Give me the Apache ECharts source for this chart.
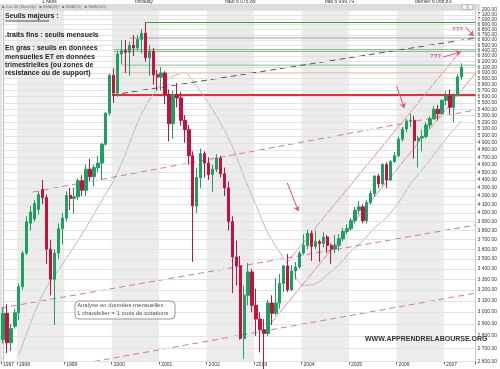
<!DOCTYPE html>
<html><head><meta charset="utf-8">
<script src="https://cdn.jsdelivr.net/npm/echarts@6/dist/echarts.min.js"></script>
<style>html,body{margin:0;padding:0;background:#fff}#c{width:500px;height:369px}</style>
</head><body><div id="c"></div>
<script>
// ---- categories (months Sep 1997 .. Aug 2007) ----
const startYear = 1997, startMonth = 9, slotCount = 120;
const months = [];
for (let i = 0; i < slotCount; i++) {
  const m = (startMonth - 1 + i) % 12 + 1, y = startYear + Math.floor((startMonth - 1 + i) / 12);
  months.push(y + '-' + (m < 10 ? '0' + m : m));
}
// ---- OHLC as [open, close, low, high] ----
const ohlc1997 = [[2770,2990,2740,3040],[2990,2745,2665,3070],[2745,2860,2680,2900],[2880,2995,2860,3030]];
const ohlc1998 = [[2995,3230,2930,3260],[3230,3560,3200,3580],[3560,3900,3540,3960],[3880,4010,3800,4080],[3930,4110,3900,4150],[4040,4220,3980,4260],[4280,4180,4100,4400],[4180,3600,3450,4220],[3600,3300,3150,3700],[3300,3560,2890,3600],[3560,3820,3500,3880],[3820,3940,3650,4000]];
const ohlc1999 = [[3940,4210,3900,4260],[4210,4170,4030,4300],[4170,4190,3990,4300],[4190,4390,4150,4420],[4390,4270,4200,4460],[4270,4540,4200,4600],[4540,4440,4380,4680],[4440,4560,4320,4600],[4560,4620,4500,4720],[4620,4880,4400,4900],[4880,5340,4860,5360],[5340,5960,5300,5980]];
const ohlc2000 = [[5960,5660,5500,6080],[5660,6340,5600,6400],[6340,6400,6150,6600],[6400,6370,6000,6600],[6370,6500,5950,6570],[6500,6450,6300,6700],[6450,6610,6400,6700],[6610,6730,6350,6810],[6730,6270,6200,6944],[6270,6390,5950,6500],[6390,5970,5800,6450],[5970,5930,5700,6050]];
const ohlc2001 = [[5926,5998,5700,6100],[5998,5640,5480,6030],[5640,5180,4920,5720],[5180,5640,4960,5700],[5640,5580,5430,5830],[5580,5230,5150,5680],[5230,5090,4900,5310],[5090,4720,4600,5160],[4720,4080,3470,4780],[4080,4430,4000,4560],[4430,4750,4300,4820],[4750,4620,4430,4780]];
const ohlc2002 = [[4620,4470,4400,4700],[4470,4540,4250,4600],[4540,4690,4500,4740],[4690,4480,4430,4720],[4480,4300,4200,4560],[4300,3900,3800,4380],[3900,3520,3170,3960],[3520,3430,3240,3690],[3430,2780,2770,3530],[2780,3150,2620,3240],[3150,3370,3060,3460],[3370,3060,3000,3400]];
const ohlc2003 = [[3060,2940,2800,3210],[2940,2850,2670,3000],[2850,2820,2400,2940],[2820,3080,2800,3110],[3080,2990,2890,3150],[2990,3080,2970,3310],[3080,3260,3030,3350],[3260,3430,3180,3440],[3430,3200,3180,3550],[3200,3380,3190,3440],[3380,3420,3300,3470],[3420,3560,3400,3580]];
const ohlc2004 = [[3560,3640,3540,3760],[3640,3770,3600,3810],[3770,3630,3480,3800],[3630,3680,3600,3800],[3680,3660,3470,3700],[3660,3730,3620,3780],[3730,3640,3560,3750],[3640,3600,3450,3660],[3600,3640,3560,3750],[3640,3710,3580,3760],[3710,3790,3680,3830],[3790,3820,3760,3870]];
const ohlc2005 = [[3820,3910,3800,3940],[3910,4030,3880,4070],[4030,4070,3980,4140],[4070,3910,3880,4100],[3910,4120,3880,4150],[4120,4230,4100,4270],[4230,4450,4190,4460],[4450,4350,4300,4480],[4350,4600,4330,4620],[4600,4400,4300,4630],[4400,4640,4390,4660],[4640,4720,4620,4770]];
const ohlc2006 = [[4720,4950,4700,4990],[4950,5100,4920,5130],[5100,5220,5050,5250],[5220,5230,5130,5330],[5230,4930,4680,5300],[4930,4970,4560,5000],[4970,4990,4780,5090],[4990,5160,4960,5200],[5160,5250,5100,5290],[5250,5400,5240,5450],[5400,5330,5230,5470],[5330,5540,5310,5560]];
const ohlc2007 = [[5540,5610,5460,5690],[5610,5430,5330,5720],[5430,5630,5200,5660],[5630,5930,5600,5980],[5930,6100,5880,6170]];
// ---- SMA(20): [slot index, value] ----
const sma20 = [[4,2650],[10,3157],[16,3504],[20,3760],[25,4146],[28,4393],[31,4748],[34,5192],[37,5546],[40,5798],[43,5944],[46,5997],[49,5769],[52,5497],[55,5193],[58,4848],[61,4437],[64,4086],[67,3771],[70,3567],[73,3386],[76,3243],[79,3255],[82,3341],[85,3446],[88,3578],[91,3690],[94,3830],[97,3949],[100,4116],[103,4345],[106,4532],[109,4735],[112,4954],[116,5226]];
// ---- y tick labels ----
const yTicks = [2600,2700,2800,2900,3000,3100,3200,3300,3400,3500,3600,3700,3800,3900,4000,4100,4200,4300,4400,4500,4600,4700,4800,4900,5000,5100,5200,5300,5400,5500,5600,5700,5800,5900,6000,6100,6200,6300,6400,6500,6600,6700,6800,6900,7000,7100,7200];
// ---- horizontal thresholds: [start slot, value] ----
const thrGreenThin = [36, 6944];
const thrGreyThin = [32, 6639];
const thrGreenBold = [28, 6402];
const thrGreenLight = [30, 6137];
const thrOrange = [30, 5996];
const thrRedBold = [27.6, 5628];
// ---- trend lines: two points [slot, value] ----
const dashBlack = [[27.6,5628],[119.5,6639]];
const dashPinkA = [[7.5,4248],[119.5,5389]];
const dashPinkB = [[-0.5,3036],[119.5,3861]];
const dashPinkC = [[23,2600],[119.5,3170]];
const chanLow = [[67.4,2889],[119.5,5998]];
const chanHigh = [[71.9,3468],[115.3,6356]];
// arrows: [from, to]
const arrows = [[[71.9,4361],[74.7,4020]],[[99.5,5777],[101.5,5420]],[[111.3,6283],[115.8,6375]],[[117,6854],[119,6677]]];
// year bands (even years)
const bandYears = [1998, 2000, 2002, 2004, 2006];

const ohlc = [].concat(ohlc1997, ohlc1998, ohlc1999, ohlc2000, ohlc2001, ohlc2002, ohlc2003, ohlc2004, ohlc2005, ohlc2006, ohlc2007);
const yearStartIdx = y => (y - startYear) * 12 - (startMonth - 1);

const fmt = v => Math.floor(v / 1000) + ' ' + String(v % 1000).padStart(3, '0') + '.00';
const hline = (thr, color, width) => ({
  type: 'line', xAxisIndex: 1, yAxisIndex: 0, silent: true, symbol: 'none',
  data: [[thr[0], thr[1]], [119.5, thr[1]]], lineStyle: { color: color, width: width }, z: 3
});
const tline = (pts, color, width, type) => ({
  type: 'line', xAxisIndex: 1, yAxisIndex: 0, silent: true, symbol: 'none', showSymbol: false,
  data: pts, lineStyle: { color: color, width: width, type: type || 'solid' }, z: 4
});

const series = [
  { type: 'line', xAxisIndex: 1, yAxisIndex: 0, data: [], silent: true,
    markArea: { silent: true, itemStyle: { color: '#ececec' },
      data: bandYears.map(y => [{ xAxis: yearStartIdx(y) - 0.5 }, { xAxis: yearStartIdx(y) + 11.5 }]) },
    markLine: { silent: true, symbol: 'none', label: { show: false },
      lineStyle: { color: '#e2e2e2', width: 1, type: 'solid' },
      data: yTicks.map(v => ({ yAxis: v })) }, z: 1 },
  Object.assign(tline(sma20, '#b8b8b8', 1), { smooth: 0.3 }),
  { type: 'candlestick', xAxisIndex: 0, yAxisIndex: 0, data: ohlc, barWidth: '72%', clip: true,
    itemStyle: { color: '#1f9e63', color0: '#c4123f', borderColor: '#1f9e63', borderColor0: '#c4123f', borderWidth: 1 }, z: 5 },
  hline(thrGreenThin, '#3f9a4f', 1),
  hline(thrGreyThin, '#a0a0a0', 1),
  hline(thrGreenBold, '#3d8b47', 2),
  hline(thrGreenLight, '#88c08a', 1),
  hline(thrOrange, '#f07850', 1),
  hline(thrRedBold, '#d8343c', 2),
  tline(dashBlack, '#555555', 1, [6, 4]),
  tline(dashPinkA, '#d07a98', 1, [6, 4]),
  tline(dashPinkB, '#d07a98', 1, [6, 4]),
  tline(dashPinkC, '#d07a98', 1, [6, 4]),
  tline(chanLow, '#e88aa8', 1),
  tline(chanHigh, '#e88aa8', 1),
  { type: 'line', xAxisIndex: 1, yAxisIndex: 0, data: [], silent: true, z: 6,
    markLine: { silent: true, symbol: ['none', 'arrow'], symbolSize: 5, label: { show: false },
      lineStyle: { color: '#e0508a', width: 1, type: 'solid' },
      data: arrows.map(a => [{ coord: a[0] }, { coord: a[1] }]) } }
];

const chart = echarts.init(document.getElementById('c'), null, { renderer: 'canvas' });
const T = (x, y, text, o) => Object.assign({ type: 'text', left: x, top: y, silent: true,
  style: Object.assign({ text: text, fill: '#222', font: 'bold 7px "Liberation Sans", Arial, sans-serif' }, o || {}) , z: 20});
chart.setOption({
  animation: false,
  backgroundColor: '#ffffff',
  grid: { left: 1, right: 20, top: 10, bottom: 7.5, show: true, borderColor: '#c8c8c8', borderWidth: 1, backgroundColor: '#ffffff' },
  xAxis: [
    { type: 'category', data: months, boundaryGap: true,
      axisLine: { lineStyle: { color: '#888' } },
      axisTick: { show: true, length: 3, lineStyle: { color: '#666' }, interval: (i, v) => v.endsWith('-01') || i === 0 },
      axisLabel: { fontSize: 5, color: '#333', margin: 1, align: 'left',
        interval: (i, v) => v.endsWith('-01') || i === 0, formatter: v => v.slice(0, 4) },
      splitLine: { show: false } },
    { type: 'value', min: -0.5, max: 119.5, show: false }
  ],
  yAxis: [{ type: 'log', logBase: 10, min: 2600, max: 7200, position: 'right',
    axisLine: { show: true, lineStyle: { color: '#bbb' } },
    axisTick: { show: false },
    axisLabel: { fontSize: 5, color: '#333', margin: 2, customValues: yTicks, formatter: v => fmt(Math.round(v)) },
    splitLine: { show: false } }],
  series: series,
  graphic: [
    { type: 'rect', shape: { x: 0, y: 4, width: 480, height: 6 }, style: { fill: '#dcdcdc' }, silent: true, z: 10 },
    { type: 'rect', shape: { x: 462, y: 4.5, width: 5, height: 5 }, style: { fill: '#f4f4f4', stroke: '#999', lineWidth: 0.6 }, silent: true, z: 11 },
    { type: 'rect', shape: { x: 468, y: 4.5, width: 5, height: 5 }, style: { fill: '#f4f4f4', stroke: '#999', lineWidth: 0.6 }, silent: true, z: 11 },
    T(2, 4.5, '■ Cac 40 (Monthly)   ■ SMA(20)   ■ SMA(50)   ■ SMA(100)', { font: '4px "Liberation Sans", Arial, sans-serif', fill: '#777' }),
    T(42, -1, '1 Mois', { font: '5px "Liberation Sans", Arial, sans-serif', fill: '#333' }),
    T(135, -1, 'Intraday', { font: '5px "Liberation Sans", Arial, sans-serif', fill: '#333' }),
    T(225, -1, 'haut 6 075,89', { font: '5px "Liberation Sans", Arial, sans-serif', fill: '#333' }),
    T(325, -1, 'bas 5 999,79', { font: '5px "Liberation Sans", Arial, sans-serif', fill: '#333' }),
    T(415, -1, 'dernier 6 068,83', { font: '5px "Liberation Sans", Arial, sans-serif', fill: '#333' }),
    T(5, 13, 'Seuils majeurs :'),
    { type: 'line', shape: { x1: 5, y1: 21, x2: 49, y2: 21 }, style: { stroke: '#222', lineWidth: 0.8 }, silent: true, z: 20 },
    T(5, 32, '.traits fins : seuils mensuels'),
    T(5, 45, 'En gras : seuils en données'),
    T(5, 54, 'mensuelles ET en données'),
    T(5, 62, 'trimestrielles (ou zones de'),
    T(5, 70, 'résistance ou de support)'),
    { type: 'rect', shape: { x: 75, y: 301, width: 100, height: 18, r: 4 }, style: { fill: 'rgba(255,255,255,0.6)', stroke: '#999', lineWidth: 1 }, silent: true, z: 19 },
    T(77, 302.5, 'Analyse en données mensuelles :', { font: '6px "Liberation Sans", Arial, sans-serif', fill: '#555' }),
    T(77, 310.5, '1 chandelier = 1 mois de cotations', { font: '6px "Liberation Sans", Arial, sans-serif', fill: '#555' }),
    T(365, 336, 'WWW.APPRENDRELABOURSE.ORG', { font: 'bold 7px "Liberation Sans", Arial, sans-serif', fill: '#333' }),
    T(452, 26, '???', { font: 'bold 6px "Liberation Sans", Arial, sans-serif', fill: '#e0508a' }),
    T(430, 53, '???', { font: 'bold 6px "Liberation Sans", Arial, sans-serif', fill: '#e0508a' })
  ]
});
</script></body></html>
